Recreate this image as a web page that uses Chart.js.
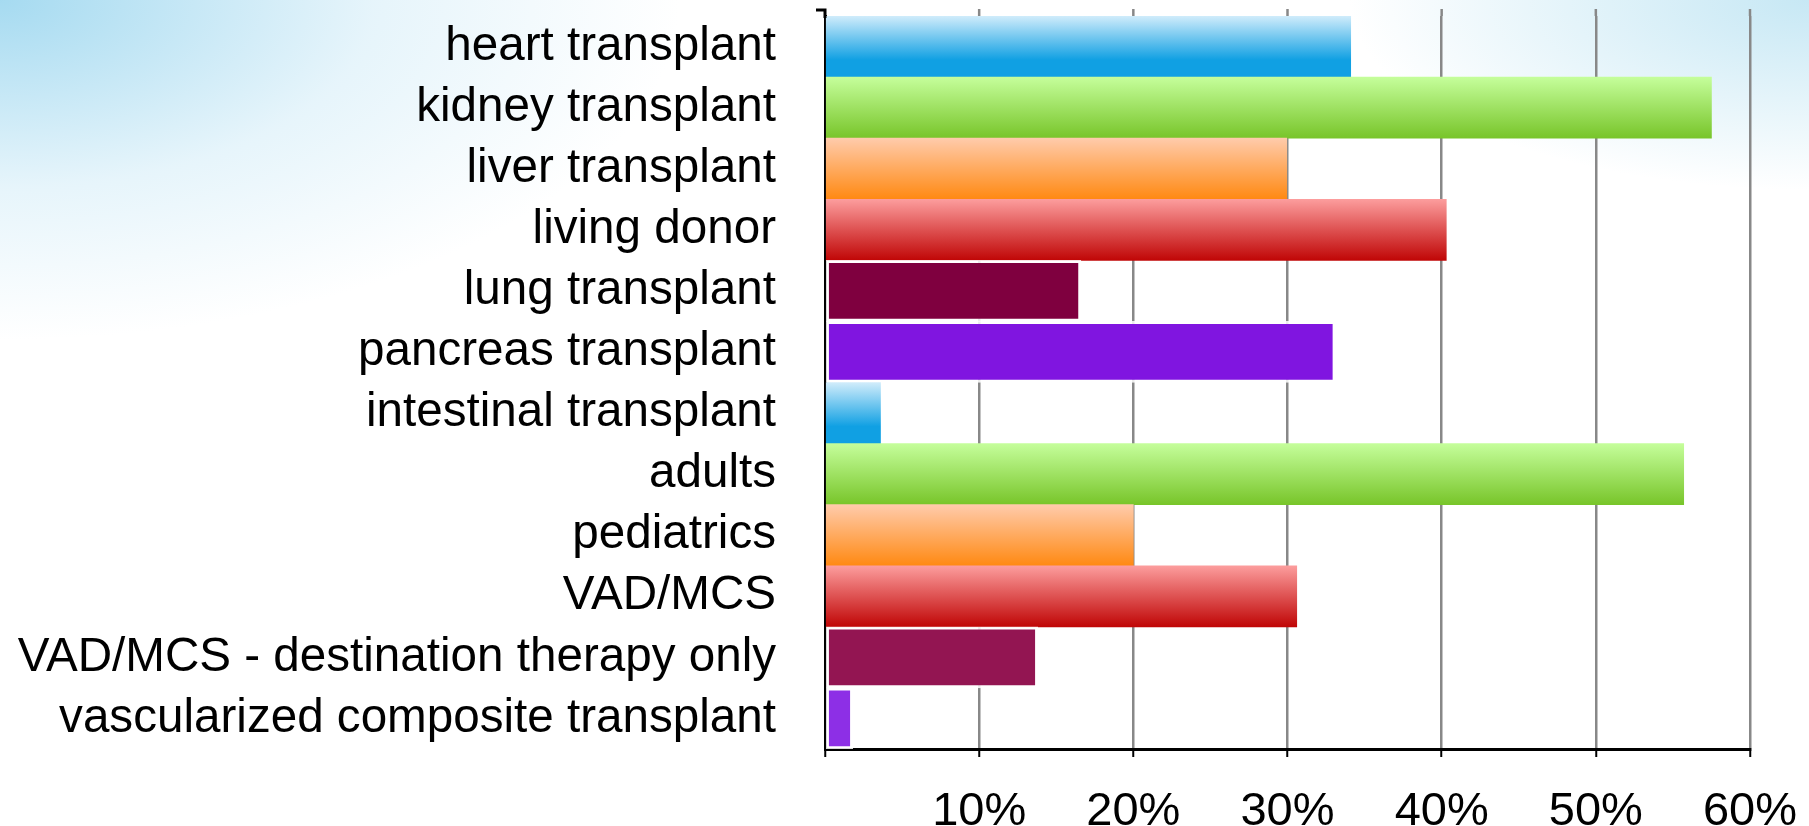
<!DOCTYPE html>
<html>
<head>
<meta charset="utf-8">
<script src="https://cdn.jsdelivr.net/npm/chart.js@4/dist/chart.umd.min.js"></script>
<style>
  html, body { margin: 0; padding: 0; overflow: hidden; }
  body {
    width: 1809px; height: 826px;
    background:
      radial-gradient(ellipse 680px 340px at 0 0, rgba(150,212,238,0.85), rgba(200,232,246,0.45) 55%, rgba(255,255,255,0) 100%),
      radial-gradient(ellipse 460px 190px at 100% 0, rgba(175,222,240,0.7), rgba(255,255,255,0) 100%),
      #ffffff;
  }
  #wrap { width: 1809px; height: 826px; position: relative; }
</style>
</head>
<body>
<div id="wrap"><canvas id="grafico"></canvas></div>
<script>
  const categorias = [
    'heart transplant', 'kidney transplant', 'liver transplant', 'living donor',
    'lung transplant', 'pancreas transplant', 'intestinal transplant', 'adults',
    'pediatrics', 'VAD/MCS', 'VAD/MCS - destination therapy only',
    'vascularized composite transplant'
  ];
  const percentuais = [34.1, 57.5, 29.95, 40.3, 16.6, 33.1, 3.6, 55.7, 20.0, 30.6, 13.8, 1.8];
  const ticksX = [0, 10, 20, 30, 40, 50, 60];

  // cores de cada barra: gradiente [topo, fundo, parada] ou cor solida
  const estilos = [
    ['#d0ecfb', '#10a0e3', 0.72], ['#c5fe9b', '#78c52a', 1], ['#ffcbab', '#ff8912', 1], ['#fc9d9d', '#c00606', 1],
    '#7f003f', '#8015e0',
    ['#d0ecfb', '#10a0e3', 0.72], ['#c5fe9b', '#78c52a', 1], ['#ffcbab', '#ff8912', 1], ['#fc9d9d', '#c00606', 1],
    '#931552', '#8d2fe6'
  ];

  function corBarra(ctx) {
    const est = estilos[ctx.dataIndex];
    if (typeof est === 'string') return est;
    const chart = ctx.chart;
    const area = chart.chartArea;
    if (!area) return est[1];
    const centro = chart.scales.y.getPixelForValue(ctx.dataIndex);
    const alt = area.height / categorias.length;
    const g = chart.ctx.createLinearGradient(0, centro - alt / 2, 0, centro + alt / 2);
    g.addColorStop(0, est[0]);
    g.addColorStop(est[2], est[1]);
    g.addColorStop(1, est[1]);
    return g;
  }

  // prolonga as linhas de grade um pouco acima da area do grafico
  const extensao = {
    id: 'extensao',
    beforeDatasetsDraw(chart) {
      const { ctx, chartArea } = chart;
      const x = chart.scales.x;
      ctx.save();
      ctx.strokeStyle = '#888888';
      ctx.lineWidth = 2.5;
      ticksX.forEach(v => {
        if (v === 0) return;
        const px = x.getPixelForValue(v);
        ctx.beginPath();
        ctx.moveTo(px, chartArea.top - 7);
        ctx.lineTo(px, chartArea.top);
        ctx.stroke();
      });
      ctx.restore();
    },
    afterDraw(chart) {
      const { ctx, chartArea } = chart;
      ctx.save();
      ctx.strokeStyle = '#000';
      ctx.lineWidth = 3;
      ctx.beginPath();
      ctx.moveTo(chartArea.left - 9, chartArea.top - 6);
      ctx.lineTo(chartArea.left, chartArea.top - 6);
      ctx.lineTo(chartArea.left, chartArea.top + 2);
      ctx.stroke();
      ctx.restore();
    }
  };

  new Chart(document.getElementById('grafico'), {
    type: 'bar',
    data: {
      labels: categorias,
      datasets: [{
        data: percentuais,
        backgroundColor: corBarra,
        borderColor: ctx => typeof estilos[ctx.dataIndex] === 'string' ? 'rgba(255,255,255,0.85)' : 'rgba(0,0,0,0)',
        borderWidth: ctx => typeof estilos[ctx.dataIndex] === 'string' ? 3 : 0,
        borderSkipped: false,
        barPercentage: 1,
        categoryPercentage: 1
      }]
    },
    options: {
      indexAxis: 'y',
      responsive: true,
      maintainAspectRatio: false,
      animation: false,
      layout: { padding: { top: 16, right: 59, left: 0, bottom: 0 } },
      plugins: {
        legend: { display: false },
        tooltip: { enabled: false }
      },
      scales: {
        x: {
          min: 0,
          max: 60,
          afterBuildTicks: axis => { axis.ticks = ticksX.map(v => ({ value: v })); },
          afterFit: axis => {
            axis.height = 77;
            axis.paddingLeft = 0;
            axis.paddingRight = 0;
          },
          grid: {
            color: '#888888',
            lineWidth: 2.5,
            tickColor: '#000',
            tickWidth: 2,
            tickLength: 8
          },
          border: { color: '#000', width: 3 },
          ticks: {
            color: '#000',
            padding: 27,
            font: { family: 'Liberation Sans', size: 47 },
            callback: v => v === 0 ? '' : v + '%'
          }
        },
        y: {
          z: 1,
          afterFit: axis => {
            axis.width = 825;
            axis.paddingTop = 0;
            axis.paddingBottom = 0;
          },
          grid: { display: false, drawTicks: false },
          border: { color: '#000', width: 3 },
          ticks: {
            color: '#000',
            padding: 49,
            autoSkip: false,
            font: { family: 'Liberation Sans', size: 47.6 }
          }
        }
      }
    },
    plugins: [extensao]
  });
</script>
</body>
</html>
